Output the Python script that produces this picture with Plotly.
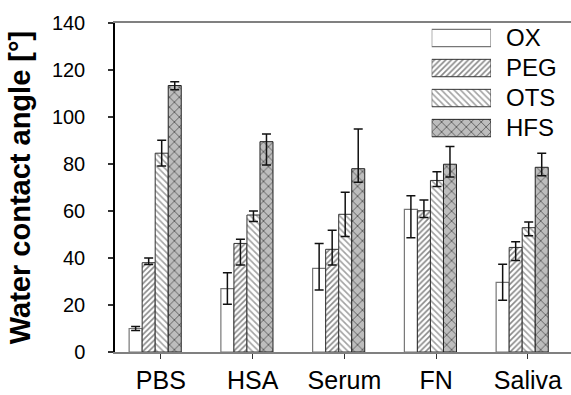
import plotly.graph_objects as go

categories = ["PBS", "HSA", "Serum", "FN", "Saliva"]
series = ["OX", "PEG", "OTS", "HFS"]

ox = [10.0, 27.0, 35.6, 60.7, 29.6]
ox_up = [0.8, 6.7, 10.6, 5.8, 7.7]
ox_dn = [0.8, 6.7, 9.2, 12.1, 7.6]

peg = [38.0, 46.2, 43.7, 60.1, 44.5]
peg_up = [2.0, 1.8, 8.1, 4.6, 2.4]
peg_dn = [0.8, 9.2, 6.7, 2.9, 5.6]

ots = [84.6, 58.3, 58.6, 73.0, 52.9]
ots_up = [5.5, 1.7, 9.4, 3.7, 2.4]
ots_dn = [5.5, 2.8, 9.4, 2.6, 3.4]

hfs = [113.4, 89.5, 78.0, 79.9, 78.6]
hfs_up = [1.6, 3.3, 16.9, 7.5, 6.0]
hfs_dn = [1.8, 9.9, 5.8, 5.4, 3.6]

values = [ox, peg, ots, hfs]
ups = [ox_up, peg_up, ots_up, hfs_up]
dns = [ox_dn, peg_dn, ots_dn, hfs_dn]

FONT = "Liberation Sans, Arial, sans-serif"
styles = [
    dict(color="white", line=dict(color="#777777", width=1.2)),
    dict(color="white", line=dict(color="#333333", width=1),
         pattern=dict(shape="/", fgcolor="#111111", bgcolor="white", size=4, solidity=0.4)),
    dict(color="white", line=dict(color="#333333", width=1),
         pattern=dict(shape="\\", fgcolor="#444444", bgcolor="white", size=4.5, solidity=0.35)),
    dict(color="white", line=dict(color="#222222", width=1),
         pattern=dict(shape="x", fgcolor="#000000", bgcolor="#bdbdbd", size=7, solidity=0.25)),
]
BAR_W = 0.142
offsets = [-0.346, -0.204, -0.062, 0.080]

fig = go.Figure()
for i, name in enumerate(series):
    fig.add_trace(go.Bar(
        x=categories, y=values[i], name=name, width=BAR_W, offset=offsets[i],
        marker=styles[i], showlegend=False,
        error_y=dict(type="data", symmetric=False, array=ups[i], arrayminus=dns[i],
                     color="#111111", thickness=1.5, width=4.5),
    ))

# legend swatches drawn as a small horizontal bar chart on its own axes
SWATCH = 1
for i, name in enumerate(series):
    fig.add_trace(go.Bar(
        x=[SWATCH], y=[name], orientation="h", xaxis="x2", yaxis="y2",
        width=0.58, offset=-0.29, marker=styles[i], showlegend=False, hoverinfo="skip",
    ))

fig.update_layout(
    width=571, height=395,
    margin=dict(l=115, r=0, t=23, b=43),
    paper_bgcolor="white", plot_bgcolor="white",
    barmode="overlay",
    font=dict(family=FONT, color="black"),
    xaxis=dict(
        type="category", categoryorder="array", categoryarray=categories,
        range=[-0.5, 4.47], showline=True, linecolor="#808080", linewidth=1.5, mirror=True,
        ticks="outside", ticklen=5, tickcolor="#333333", tickwidth=1,
        tickfont=dict(size=25, family=FONT), showgrid=False, zeroline=False,
        ticklabelstandoff=0, automargin=False,
    ),
    yaxis=dict(
        range=[0, 140], dtick=20, showline=True, linecolor="black", linewidth=1.5,
        ticks="outside", ticklen=5, tickcolor="#333333", tickwidth=1.5,
        tickfont=dict(size=20, family=FONT), showgrid=False, zeroline=False,
        ticklabelstandoff=19, automargin=False,
        title=dict(text="<b>Water contact angle [°]</b>", font=dict(size=29, family=FONT), standoff=13),
    ),
    xaxis2=dict(domain=[0.6945, 0.8246], range=[0, 1], anchor="y2", visible=False,
                automargin=False),
    yaxis2=dict(domain=[0.635, 1.0], anchor="x2", side="right", type="category",
                categoryorder="array", categoryarray=series, autorange="reversed",
                tickmode="array", tickvals=series, ticktext=series,
                showline=False, ticks="", showgrid=False, zeroline=False,
                tickfont=dict(size=24, family=FONT), ticklabelstandoff=14, automargin=False),
)

fig.write_html("out.html", config={"displayModeBar": False},
               post_script="document.body.style.margin='0';document.body.style.overflow='hidden';")
